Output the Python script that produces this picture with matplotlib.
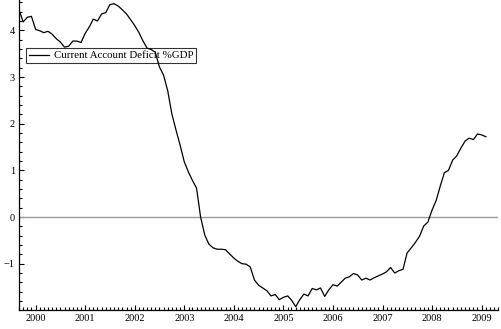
"""
Current account deficit as % of GDP, 1999-2009
"""

import matplotlib
matplotlib.use("Agg")
import matplotlib.pyplot as plt
import matplotlib.dates as mdates
from matplotlib.ticker import MultipleLocator
import pandas as pd

# monthly values, Sep 1999 .. Feb 2009
cad = [
    4.44, 4.18, 4.28, 4.30, 4.02, 3.99, 3.95, 3.98, 3.92, 3.82,
    3.75, 3.64, 3.66, 3.77, 3.77, 3.74, 3.94, 4.08, 4.24, 4.20,
    4.35, 4.38, 4.55, 4.57, 4.52, 4.44, 4.35, 4.23, 4.10, 3.95,
    3.78, 3.62, 3.59, 3.53, 3.22, 3.04, 2.70, 2.21, 1.86, 1.54,
    1.18, 0.96, 0.79, 0.62, 0.00, -0.39, -0.58, -0.66, -0.69, -0.69,
    -0.70, -0.79, -0.88, -0.95, -1.00, -1.01, -1.07, -1.35, -1.46, -1.52,
    -1.58, -1.69, -1.66, -1.77, -1.72, -1.69, -1.78, -1.92, -1.77, -1.65,
    -1.69, -1.53, -1.56, -1.52, -1.70, -1.56, -1.45, -1.48, -1.40, -1.31,
    -1.28, -1.21, -1.24, -1.35, -1.31, -1.35, -1.30, -1.26, -1.22, -1.17,
    -1.08, -1.20, -1.15, -1.12, -0.77, -0.66, -0.54, -0.41, -0.19, -0.11,
    0.15, 0.36, 0.66, 0.95, 1.00, 1.22, 1.31, 1.48, 1.63, 1.69,
    1.66, 1.78, 1.76, 1.72,
]
dates = pd.date_range("1999-09-01", periods=len(cad), freq="MS")

plt.rcParams["font.family"] = ["Liberation Serif", "DejaVu Serif"]
plt.rcParams["font.size"] = 7.5

fig = plt.figure(figsize=(5.02, 3.29), dpi=100)
ax = fig.add_axes([0.038, 0.058, 0.954, 0.942])

ax.axhline(0, color="#9a9a9a", lw=1.0)
ax.plot(dates, cad, color="black", lw=0.9, label="Current Account Deficit %GDP",
        zorder=6)

ax.set_xlim(pd.Timestamp("1999-09-01"), pd.Timestamp("2009-05-01"))
ax.set_ylim(-1.99, 4.65)

ax.xaxis.set_major_locator(mdates.YearLocator())
ax.xaxis.set_minor_locator(mdates.MonthLocator())
ax.xaxis.set_major_formatter(mdates.DateFormatter("%Y"))
ax.yaxis.set_major_locator(MultipleLocator(1))
ax.yaxis.set_minor_locator(MultipleLocator(0.2))

ax.tick_params(which="both", direction="in", width=0.8, labelsize=7.5)
ax.tick_params(which="major", length=3.5, pad=3)
ax.tick_params(which="minor", length=2)

for side in ["top", "right"]:
    ax.spines[side].set_visible(False)
for side in ["left", "bottom"]:
    ax.spines[side].set_linewidth(0.9)

leg = ax.legend(loc="upper left", bbox_to_anchor=(0.0146, 0.845), borderaxespad=0,
                fancybox=False, edgecolor="black", facecolor="none", fontsize=7.8,
                handlelength=1.9, handletextpad=0.4, borderpad=0.25)
leg.get_frame().set_linewidth(0.8)

fig.savefig("out.png", dpi=100)
